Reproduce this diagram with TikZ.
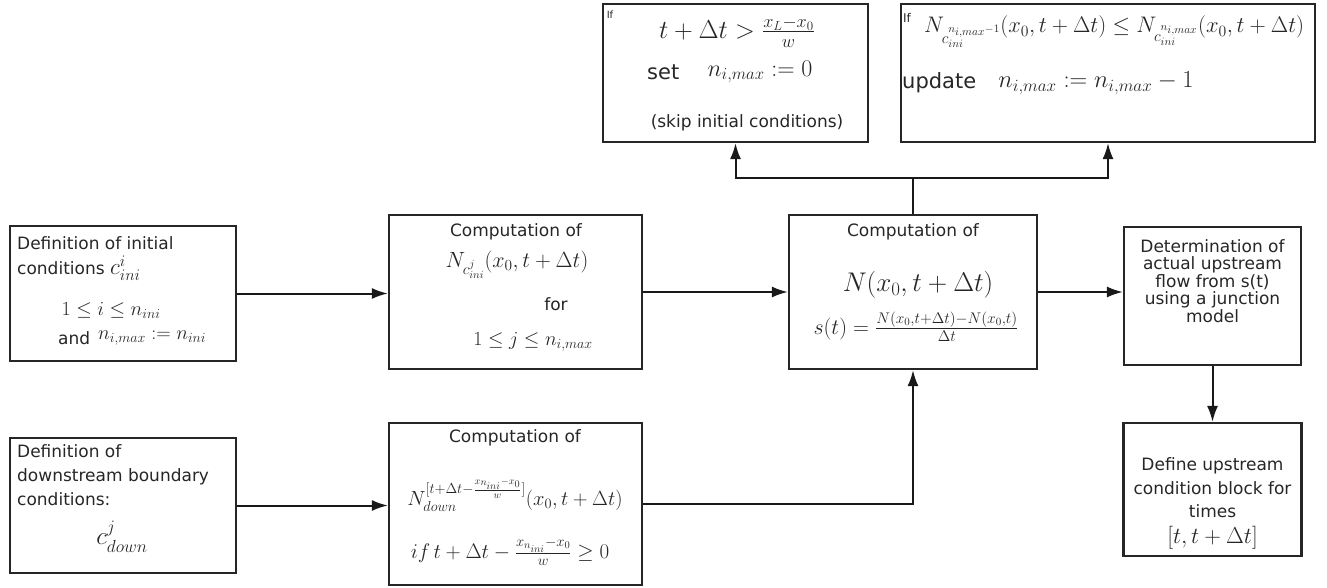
\RequirePackage{fix-cm}
\documentclass[tikz,border=0pt]{standalone}
\usepackage{amsmath}
\usepackage{fontspec}
\setmainfont{DejaVu Sans}
\usetikzlibrary{arrows.meta}
\newcommand{\fsz}[2]{\fontsize{#1}{#2}\selectfont}
\tikzset{
  box/.style={draw=black!85, line width=2.2pt, rectangle, inner sep=0pt},
  conn/.style={draw=black!90, line width=2pt},
  arr/.style={conn, -{Latex[length=16pt,width=11pt]}},
  txt/.style={inner sep=0pt, text=black!85, font=\fsz{17}{20}},
  mtxt/.style={inner sep=0pt, text=black!85},
}
\begin{document}
\begin{tikzpicture}[x=1pt,y=-1pt]
\useasboundingbox (0,0) rectangle (1327,588);
% boxes
\node[box, minimum width=226pt, minimum height=135pt] (init) at (123,293.5) {};
\node[box, minimum width=253pt, minimum height=154pt] (compc) at (515.5,292) {};
\node[box, minimum width=248pt, minimum height=154pt] (compN) at (913,292) {};
\node[box, minimum width=177pt, minimum height=138pt] (det) at (1212.5,296) {};
\node[box, minimum width=226pt, minimum height=135pt] (downdef) at (123,505.5) {};
\node[box, minimum width=253pt, minimum height=162pt] (compd) at (515.5,504) {};
\node[box, minimum width=178pt, minimum height=133pt] (defup) at (1212.5,489.5) {};
\node[box, minimum width=265pt, minimum height=138pt] (ifL) at (735.5,73) {};
\node[box, minimum width=414pt, minimum height=138pt] (ifR) at (1108,73) {};
% box 1
\node[txt, anchor=west] (i1) at (17,243) {Definition of initial};
\node[txt, anchor=west] (i2) at (17,268) {conditions};
\node[mtxt, anchor=west] (i2m) at (110,268) {\fsz{23}{24}$c^{i}_{ini}$};
\node[mtxt] (i3) at (111,310) {\fsz{20}{24}$1\le i\le n_{ini}$};
\node[txt, anchor=west] (i4) at (58,338) {and};
\node[mtxt, anchor=west] (i4m) at (98,338) {\fsz{20}{22}$n_{i,max}:=n_{ini}$};
% box 2
\node[txt] (c1) at (516,232) {Computation of};
\node[mtxt] (c2) at (517,265) {\fsz{22}{24}$N_{c^{j}_{ini}}(x_0,t+\Delta t)$};
\node[txt] (c3) at (556,304) {for};
\node[mtxt] (c4) at (533,342) {\fsz{20}{24}$1\le j\le n_{i,max}$};
% box 3
\node[txt] (n1) at (913,232) {Computation of};
\node[mtxt] (n2) at (918,285) {\fsz{27}{30}$N(x_0,t+\Delta t)$};
\node[mtxt] (n3) at (916,327) {\fsz{22}{24}$s(t)=\frac{N(x_0,t+\Delta t)-N(x_0,t)}{\Delta t}$};
% box 4
\node[txt, align=center, font=\fsz{17}{17.5}] (d1) at (1212.5,281) {Determination of\\actual upstream\\flow from s(t)\\using a junction\\model};
% box 5
\node[txt, anchor=north west, align=left, font=\fsz{17}{24}] (w1) at (17,444) {Definition of\\downstream boundary\\conditions:};
\node[mtxt] (w2) at (122,537) {\fsz{25}{26}$c^{j}_{down}$};
% box 6
\node[txt] (e1) at (515,438) {Computation of};
\node[mtxt] (e2) at (515,495) {\fsz{20.5}{24}$N_{down}^{[t+\Delta t-\frac{x_{n_{ini}}-x_0}{w}]}(x_0,t+\Delta t)$};
\node[mtxt] (e3) at (510,552) {\fsz{21}{24}$if\,t+\Delta t-\frac{x_{n_{ini}}-x_0}{w}\ge 0$};
% box 7
\node[txt, align=center, font=\fsz{17}{23.5}] (u1) at (1212.5,488) {Define upstream\\condition block for\\times};
\node[mtxt] (u2) at (1212.5,538) {\fsz{23}{24}$[t,t+\Delta t]$};
% box 8
\node[txt, font=\fsz{10}{12}] (l0) at (610,15) {If};
\node[mtxt] (l1) at (737,32) {\fsz{26}{28}$t+\Delta t>\frac{x_L-x_0}{w}$};
\node[txt, anchor=west, font=\fsz{21}{24}] (l2) at (647,72) {set};
\node[mtxt] (l3) at (760,72) {\fsz{24}{26}$n_{i,max}:=0$};
\node[txt] (l4) at (747,123) {(skip initial conditions)};
% box 9
\node[txt, font=\fsz{12}{14}] (r0) at (907,18) {If};
\node[mtxt, anchor=west] (r1) at (924,32) {\fsz{22.5}{24}$N_{c_{ini}^{n_{i,max}-1}}(x_0,t+\Delta t)\le N_{c_{ini}^{n_{i,max}}}(x_0,t+\Delta t)$};
\node[txt, anchor=west, font=\fsz{21}{24}] (r2) at (902,83) {update};
\node[mtxt] (r3) at (1096,83) {\fsz{24.5}{26}$n_{i,max}:=n_{i,max}-1$};
% connectors
\draw[arr] (init.east) -- (init.east -| compc.west);
\draw[arr] (compc.east) -- (compc.east -| compN.west);
\draw[arr] (compN.east) -- (compN.east -| det.west);
\draw[arr] (det.south) -- (det.south |- defup.north);
\draw[arr] (downdef.east) -- (downdef.east -| compd.west);
\draw[arr] (compd.east) -- (compd.east -| compN.south) -- (compN.south);
\coordinate (split) at (913,178);
\draw[conn] (compN.north) -- (split);
\draw[arr] (split) -| (ifL.south);
\draw[arr] (split) -| (ifR.south);
\end{tikzpicture}
\end{document}
